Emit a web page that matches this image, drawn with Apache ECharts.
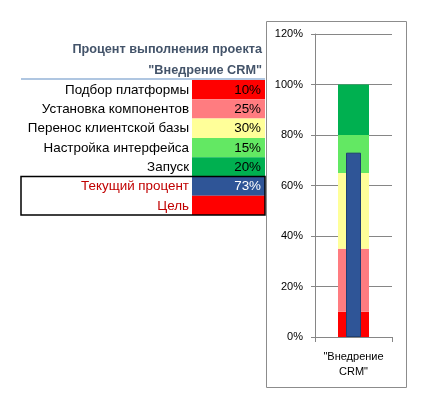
<!DOCTYPE html>
<html>
<head>
<meta charset="utf-8">
<script src="https://cdn.jsdelivr.net/npm/echarts@6/dist/echarts.min.js"></script>
<style>
  html, body { margin: 0; padding: 0; background: #fff; }
  #chart { width: 434px; height: 407px; }
</style>
</head>
<body>
<div id="chart"></div>
<script>
// данные проекта
const titleLines = ["Процент выполнения проекта", "\"Внедрение CRM\""];
const stages = [
  "Подбор платформы",
  "Установка компонентов",
  "Перенос клиентской базы",
  "Настройка интерфейса",
  "Запуск",
];
const stageValues = [10, 25, 30, 15, 20];
const currentLabel = "Текущий процент";
const currentValue = 73;
const goalLabel = "Цель";
const categories = ["\"Внедрение CRM\""];
const yTicks = { min: 0, max: 120, interval: 20 };

// цвета
const stageColors = ["#FF0000", "#FF7C80", "#FFFF99", "#63E863", "#00B050"];
const currentColor = "#2F5597";
const goalColor = "#FF0000";

const chart = echarts.init(document.getElementById("chart"));
const font = "Liberation Sans, Arial, sans-serif";

// таблица слева
const rowTop = 80;
const rowH = 19.3;
const labelRight = 189;
const cellLeft = 192;
const cellRight = 265;

const graphics = [];
titleLines.forEach((t, i) => {
  graphics.push({
    type: "text",
    x: 262,
    y: 49 + i * 21,
    style: {
      text: t,
      align: "right",
      verticalAlign: "middle",
      font: "bold 12.7px " + font,
      fill: "#44546A",
    },
  });
});
graphics.push({
  type: "line",
  shape: { x1: 21, y1: 79, x2: 265, y2: 79 },
  style: { stroke: "#95B3D7", lineWidth: 1.5 },
});

const rows = stages.map((s, i) => ({
  label: s,
  value: stageValues[i] + "%",
  color: stageColors[i],
  textColor: "#000",
  valueColor: "#000",
}));
rows.push({
  label: currentLabel,
  value: currentValue + "%",
  color: currentColor,
  textColor: "#C00000",
  valueColor: "#fff",
});
rows.push({
  label: goalLabel,
  value: "",
  color: goalColor,
  textColor: "#C00000",
  valueColor: "#000",
});

rows.forEach((r, i) => {
  const y = rowTop + i * rowH;
  graphics.push({
    type: "rect",
    shape: { x: cellLeft, y: y, width: cellRight - cellLeft, height: rowH },
    style: { fill: r.color },
  });
  graphics.push({
    type: "text",
    x: labelRight,
    y: y + rowH / 2 + 0.5,
    style: {
      text: r.label,
      align: "right",
      verticalAlign: "middle",
      font: "13.4px " + font,
      fill: r.textColor,
    },
  });
  if (r.value) {
    graphics.push({
      type: "text",
      x: 261,
      y: y + rowH / 2 + 0.5,
      style: {
        text: r.value,
        align: "right",
        verticalAlign: "middle",
        font: "13.4px " + font,
        fill: r.valueColor,
      },
    });
  }
});
// рамка вокруг "Текущий процент" и "Цель"
graphics.push({
  type: "rect",
  shape: { x: 21, y: rowTop + 5 * rowH, width: 244, height: 2 * rowH },
  style: { fill: "none", stroke: "#000", lineWidth: 1.5 },
  z: 10,
});
// рамка диаграммы
graphics.push({
  type: "rect",
  shape: { x: 266.5, y: 21.5, width: 140, height: 366 },
  style: { fill: "none", stroke: "#8C8C8C", lineWidth: 1 },
});

const stageSeries = stages.map((s, i) => ({
  name: s,
  type: "bar",
  stack: "plan",
  xAxisIndex: 0,
  barWidth: 31,
  data: [stageValues[i]],
  itemStyle: { color: stageColors[i] },
  silent: true,
}));

chart.setOption({
  animation: false,
  graphic: graphics,
  grid: { left: 315, top: 34, width: 77, height: 303 },
  xAxis: [
    {
      type: "category",
      data: categories,
      axisLine: { lineStyle: { color: "#868686" } },
      axisTick: { show: true, length: 5, lineStyle: { color: "#868686" } },
      axisLabel: {
        margin: 12,
        color: "#000",
        fontFamily: font,
        fontSize: 11,
        lineHeight: 15,
        formatter: (v) => v.replace(" ", "\n"),
      },
    },
    { type: "category", data: categories, show: false },
  ],
  yAxis: {
    type: "value",
    min: yTicks.min,
    max: yTicks.max,
    interval: yTicks.interval,
    axisLine: { show: true, lineStyle: { color: "#868686" } },
    axisTick: { show: true, length: 4, lineStyle: { color: "#868686" } },
    splitLine: { lineStyle: { color: "#868686" } },
    axisLabel: {
      margin: 12,
      color: "#000",
      fontFamily: font,
      fontSize: 11,
      formatter: "{value}%",
    },
  },
  series: [
    ...stageSeries,
    {
      name: currentLabel,
      type: "bar",
      xAxisIndex: 1,
      barWidth: 15,
      data: [currentValue],
      itemStyle: { color: currentColor, borderColor: "#203F73", borderWidth: 1 },
      z: 5,
      silent: true,
    },
  ],
});
</script>
</body>
</html>
